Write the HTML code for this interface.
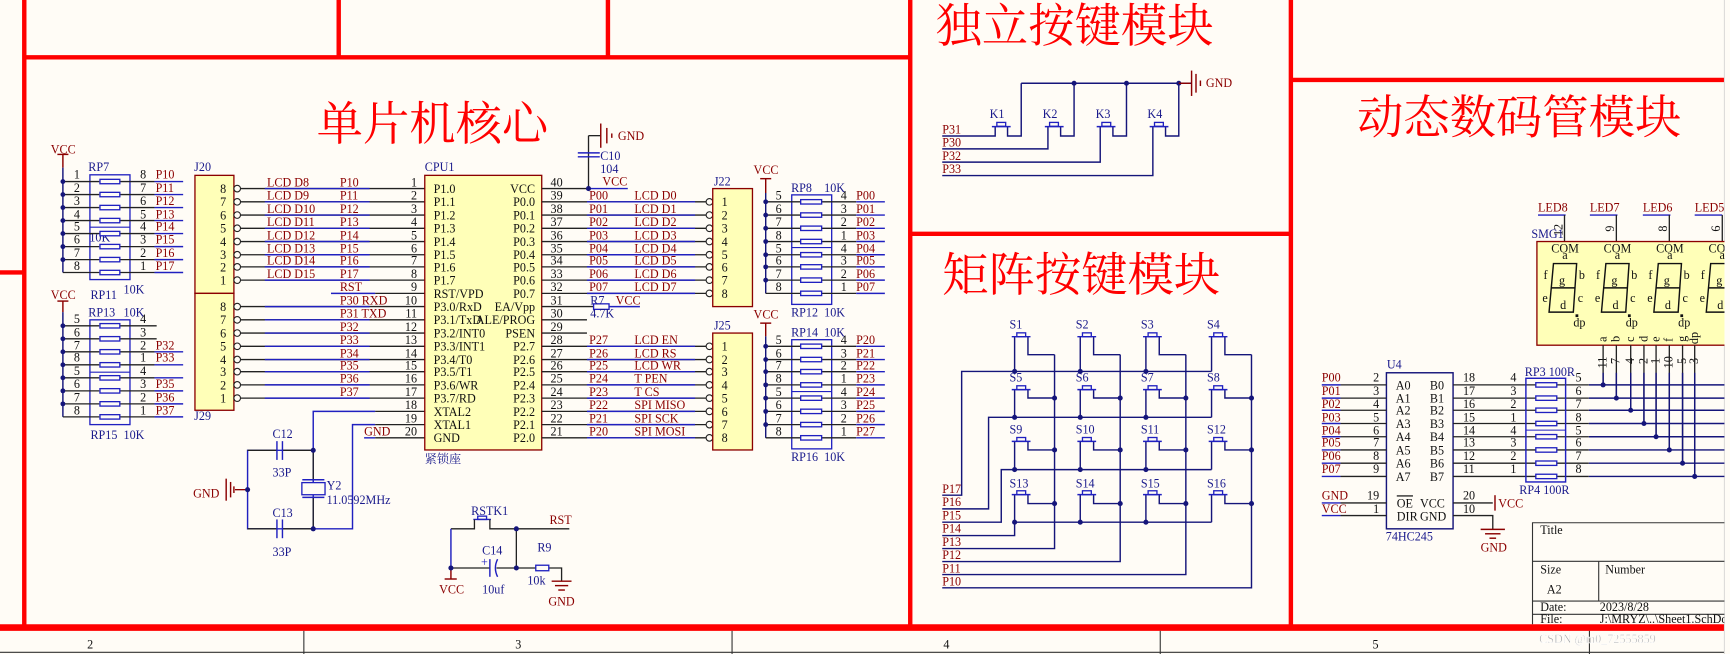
<!DOCTYPE html>
<html><head><meta charset="utf-8"><style>
html,body{margin:0;padding:0;background:#fffcf6;}
svg{display:block;}
text{font-family:"Liberation Serif","Noto Serif CJK SC",serif;font-size:11px;}
.t{font-family:"Liberation Serif","Noto Serif CJK SC",serif;font-size:42px;fill:#ff0000;}
.n{fill:#111;}
.l{fill:#8b0000;}
.c{fill:#1a1a8c;}
.bk{stroke:#222;stroke-width:1.2;fill:none;}
.bl{stroke:#2020c0;stroke-width:1.3;fill:none;}
.nv{stroke:#15157a;stroke-width:1.3;fill:none;}
.dr{stroke:#8b0000;stroke-width:1.3;fill:none;}
.rd{stroke:#ff0000;stroke-width:4;fill:none;}
.rs{fill:#fffcf6;stroke:#2020c0;stroke-width:1.2;}
.yb{fill:#ffffb8;stroke:#8b0000;stroke-width:1.2;}
.cr{fill:#fffcf6;stroke:#222;stroke-width:1;}
.d{fill:#15157a;}
</style></head><body>
<svg width="1730" height="654" viewBox="0 0 1568 593" preserveAspectRatio="none" xmlns="http://www.w3.org/2000/svg">
<rect width="1568" height="593" fill="#fffcf6"/>

<!-- red frame -->
<g class="rd">
<line x1="22" y1="0" x2="22" y2="570"/>
<line x1="0" y1="247" x2="22" y2="247"/>
<line x1="22" y1="52" x2="825" y2="52"/>
<line x1="307" y1="0" x2="307" y2="52"/>
<line x1="551" y1="0" x2="551" y2="52"/>
<line x1="825" y1="0" x2="825" y2="570"/>
<line x1="825" y1="212" x2="1170" y2="212"/>
<line x1="1170" y1="0" x2="1170" y2="570"/>
<line x1="1170" y1="72.5" x2="1568" y2="72.5"/>
<line x1="0" y1="569" x2="1568" y2="569" stroke-width="6"/>
</g>
<!-- bottom strip -->
<g stroke="#333" stroke-width="1"><line x1="275.4" y1="572" x2="275.4" y2="593"/><line x1="663.5" y1="572" x2="663.5" y2="593"/><line x1="1051.6" y1="572" x2="1051.6" y2="593"/><line x1="1440.6" y1="572" x2="1440.6" y2="593"/><line x1="0" y1="591.5" x2="1568" y2="591.5"/><line x1="1563" y1="0" x2="1563" y2="593" stroke="#bbb"/></g>
<text x="79" y="588" class="n">2</text><text x="467" y="588" class="n">3</text><text x="855" y="588" class="n">4</text><text x="1244" y="588" class="n">5</text>

<!-- titles -->
<text x="287" y="127" class="t">单片机核心</text>
<text x="848" y="38" class="t">独立按键模块</text>
<text x="854" y="264" class="t">矩阵按键模块</text>
<text x="1230" y="121" class="t">动态数码管模块</text>

<!-- ============ RP7 / RP11 ============ -->
<text x="46" y="139" class="l">VCC</text>
<line x1="57" y1="140" x2="57" y2="152" class="dr"/><line x1="52" y1="140" x2="62" y2="140" class="dr"/>
<line x1="57" y1="152" x2="57" y2="247" class="nv"/>
<rect x="81.5" y="158.5" width="36.3" height="95" fill="none" stroke="#2020c0" stroke-width="1.2"/>
<line x1="81.5" y1="206" x2="117.8" y2="206" stroke="#2020c0"/>
<text x="80" y="155" class="c">RP7</text><text x="81" y="219" class="c">10K</text><text x="112" y="266" class="c">10K</text><text x="82" y="271" class="c">RP11</text>
<g class="bk">
<line x1="57" y1="164.6" x2="90" y2="164.6"/><line x1="57" y1="176.4" x2="90" y2="176.4"/><line x1="57" y1="188.2" x2="90" y2="188.2"/><line x1="57" y1="200" x2="90" y2="200"/><line x1="57" y1="211.8" x2="90" y2="211.8"/><line x1="57" y1="223.6" x2="90" y2="223.6"/><line x1="57" y1="235.4" x2="90" y2="235.4"/><line x1="57" y1="247.1" x2="90" y2="247.1"/>
<line x1="109" y1="164.6" x2="140" y2="164.6"/><line x1="109" y1="176.4" x2="140" y2="176.4"/><line x1="109" y1="188.2" x2="140" y2="188.2"/><line x1="109" y1="200" x2="140" y2="200"/><line x1="109" y1="211.8" x2="140" y2="211.8"/><line x1="109" y1="223.6" x2="140" y2="223.6"/><line x1="109" y1="235.4" x2="140" y2="235.4"/><line x1="109" y1="247.1" x2="140" y2="247.1"/>
</g>
<g class="bl"><line x1="140" y1="164.6" x2="166" y2="164.6"/><line x1="140" y1="176.4" x2="166" y2="176.4"/><line x1="140" y1="188.2" x2="166" y2="188.2"/><line x1="140" y1="200" x2="166" y2="200"/><line x1="140" y1="211.8" x2="166" y2="211.8"/><line x1="140" y1="223.6" x2="166" y2="223.6"/><line x1="140" y1="235.4" x2="166" y2="235.4"/><line x1="140" y1="247.1" x2="166" y2="247.1"/></g>
<g class="rs"><rect x="90.6" y="162.6" width="18" height="4"/><rect x="90.6" y="174.4" width="18" height="4"/><rect x="90.6" y="186.2" width="18" height="4"/><rect x="90.6" y="198" width="18" height="4"/><rect x="90.6" y="209.8" width="18" height="4"/><rect x="90.6" y="221.6" width="18" height="4"/><rect x="90.6" y="233.4" width="18" height="4"/><rect x="90.6" y="245.1" width="18" height="4"/></g>
<g class="d"><circle cx="57" cy="164.6" r="2.2"/><circle cx="57" cy="176.4" r="2.2"/><circle cx="57" cy="188.2" r="2.2"/><circle cx="57" cy="200" r="2.2"/><circle cx="57" cy="211.8" r="2.2"/><circle cx="57" cy="223.6" r="2.2"/><circle cx="57" cy="235.4" r="2.2"/></g>
<g class="n"><text x="67" y="162">1</text><text x="67" y="174">2</text><text x="67" y="186">3</text><text x="67" y="198">4</text><text x="67" y="209">5</text><text x="67" y="221">6</text><text x="67" y="233">7</text><text x="67" y="245">8</text>
<text x="127" y="162">8</text><text x="127" y="174">7</text><text x="127" y="186">6</text><text x="127" y="198">5</text><text x="127" y="209">4</text><text x="127" y="221">3</text><text x="127" y="233">2</text><text x="127" y="245">1</text></g>
<g class="l"><text x="141" y="162">P10</text><text x="141" y="174">P11</text><text x="141" y="186">P12</text><text x="141" y="198">P13</text><text x="141" y="209">P14</text><text x="141" y="221">P15</text><text x="141" y="233">P16</text><text x="141" y="245">P17</text></g>

<!-- ============ RP13 / RP15 ============ -->
<text x="46" y="271" class="l">VCC</text>
<line x1="57" y1="273" x2="57" y2="283" class="dr"/><line x1="52" y1="273" x2="62" y2="273" class="dr"/>
<line x1="57" y1="283" x2="57" y2="378" class="nv"/>
<rect x="81.5" y="290" width="36.3" height="95" fill="none" stroke="#2020c0" stroke-width="1.2"/>
<line x1="81.5" y1="337.5" x2="117.8" y2="337.5" stroke="#2020c0"/>
<text x="80" y="287" class="c">RP13</text><text x="112" y="287" class="c">10K</text><text x="82" y="398" class="c">RP15</text><text x="112" y="398" class="c">10K</text>
<g class="bk">
<line x1="57" y1="295.4" x2="90" y2="295.4"/><line x1="57" y1="307.2" x2="90" y2="307.2"/><line x1="57" y1="319" x2="90" y2="319"/><line x1="57" y1="330.8" x2="90" y2="330.8"/><line x1="57" y1="342.6" x2="90" y2="342.6"/><line x1="57" y1="354.4" x2="90" y2="354.4"/><line x1="57" y1="366.2" x2="90" y2="366.2"/><line x1="57" y1="378" x2="90" y2="378"/>
<line x1="109" y1="295.4" x2="142" y2="295.4"/><line x1="109" y1="307.2" x2="142" y2="307.2"/><line x1="109" y1="319" x2="140" y2="319"/><line x1="109" y1="330.8" x2="140" y2="330.8"/><line x1="109" y1="342.6" x2="140" y2="342.6"/><line x1="109" y1="354.4" x2="140" y2="354.4"/><line x1="109" y1="366.2" x2="140" y2="366.2"/><line x1="109" y1="378" x2="140" y2="378"/>
</g>
<g class="bl"><line x1="140" y1="319" x2="166" y2="319"/><line x1="140" y1="330.8" x2="166" y2="330.8"/><line x1="140" y1="342.6" x2="166" y2="342.6"/><line x1="140" y1="354.4" x2="166" y2="354.4"/><line x1="140" y1="366.2" x2="166" y2="366.2"/><line x1="140" y1="378" x2="166" y2="378"/></g>
<g class="rs"><rect x="90.6" y="293.4" width="18" height="4"/><rect x="90.6" y="305.2" width="18" height="4"/><rect x="90.6" y="317" width="18" height="4"/><rect x="90.6" y="328.8" width="18" height="4"/><rect x="90.6" y="340.6" width="18" height="4"/><rect x="90.6" y="352.4" width="18" height="4"/><rect x="90.6" y="364.2" width="18" height="4"/><rect x="90.6" y="376" width="18" height="4"/></g>
<g class="d"><circle cx="57" cy="295.4" r="2.2"/><circle cx="57" cy="307.2" r="2.2"/><circle cx="57" cy="319" r="2.2"/><circle cx="57" cy="330.8" r="2.2"/><circle cx="57" cy="342.6" r="2.2"/><circle cx="57" cy="354.4" r="2.2"/><circle cx="57" cy="366.2" r="2.2"/></g>
<g class="n"><text x="67" y="293">5</text><text x="67" y="305">6</text><text x="67" y="317">7</text><text x="67" y="328">8</text><text x="67" y="340">5</text><text x="67" y="352">6</text><text x="67" y="364">7</text><text x="67" y="376">8</text>
<text x="127" y="293">4</text><text x="127" y="305">3</text><text x="127" y="317">2</text><text x="127" y="328">1</text><text x="127" y="340">4</text><text x="127" y="352">3</text><text x="127" y="364">2</text><text x="127" y="376">1</text></g>
<g class="l"><text x="141" y="317">P32</text><text x="141" y="328">P33</text><text x="141" y="352">P35</text><text x="141" y="364">P36</text><text x="141" y="376">P37</text></g>

<!-- ============ J20 / J29 ============ -->
<text x="176" y="155" class="c">J20</text><text x="176" y="381" class="c">J29</text>
<rect x="176.7" y="159" width="35.3" height="107" class="yb"/>
<rect x="176.7" y="266" width="35.3" height="106" class="yb"/>
<g class="n" text-anchor="end"><text x="205" y="175">8</text><text x="205" y="187">7</text><text x="205" y="199">6</text><text x="205" y="211">5</text><text x="205" y="223">4</text><text x="205" y="235">3</text><text x="205" y="246">2</text><text x="205" y="258">1</text>
<text x="205" y="282">8</text><text x="205" y="294">7</text><text x="205" y="306">6</text><text x="205" y="318">5</text><text x="205" y="330">4</text><text x="205" y="341">3</text><text x="205" y="353">2</text><text x="205" y="365">1</text></g>

<!-- left CPU lines -->
<g class="bk">
<line x1="218" y1="171" x2="385" y2="171"/><line x1="218" y1="183" x2="385" y2="183"/><line x1="218" y1="195" x2="385" y2="195"/><line x1="218" y1="207" x2="385" y2="207"/><line x1="218" y1="219" x2="385" y2="219"/><line x1="218" y1="231" x2="385" y2="231"/><line x1="218" y1="242" x2="385" y2="242"/><line x1="218" y1="254" x2="385" y2="254"/>
<line x1="340" y1="266" x2="385" y2="266"/>
<line x1="218" y1="278" x2="385" y2="278"/><line x1="218" y1="290" x2="385" y2="290"/><line x1="218" y1="302" x2="385" y2="302"/><line x1="218" y1="314" x2="385" y2="314"/><line x1="218" y1="326" x2="385" y2="326"/><line x1="218" y1="337" x2="385" y2="337"/><line x1="218" y1="349" x2="385" y2="349"/><line x1="218" y1="361" x2="385" y2="361"/>
<line x1="340" y1="373" x2="385" y2="373"/><line x1="340" y1="385" x2="385" y2="385"/><line x1="340" y1="397" x2="385" y2="397"/>
</g>
<g class="bl">
<line x1="240" y1="171" x2="335" y2="171"/><line x1="240" y1="183" x2="335" y2="183"/><line x1="240" y1="195" x2="335" y2="195"/><line x1="240" y1="207" x2="335" y2="207"/><line x1="240" y1="219" x2="335" y2="219"/><line x1="240" y1="231" x2="335" y2="231"/><line x1="240" y1="242" x2="335" y2="242"/><line x1="240" y1="254" x2="335" y2="254"/>
<line x1="300" y1="266" x2="340" y2="266"/>
<line x1="240" y1="278" x2="335" y2="278"/><line x1="240" y1="290" x2="335" y2="290"/><line x1="240" y1="302" x2="335" y2="302"/><line x1="240" y1="314" x2="335" y2="314"/><line x1="240" y1="326" x2="335" y2="326"/><line x1="240" y1="337" x2="335" y2="337"/><line x1="240" y1="349" x2="335" y2="349"/><line x1="240" y1="361" x2="335" y2="361"/>
<polyline points="340,373 283.9,373 283.9,479.5"/><polyline points="340,385 319.5,385 319.5,479.5 224.4,479.5 224.4,408.3 283.9,408.3"/>
<line x1="330" y1="397" x2="340" y2="397"/>
</g>
<g class="cr"><circle cx="215" cy="171" r="3"/><circle cx="215" cy="183" r="3"/><circle cx="215" cy="195" r="3"/><circle cx="215" cy="207" r="3"/><circle cx="215" cy="219" r="3"/><circle cx="215" cy="231" r="3"/><circle cx="215" cy="242" r="3"/><circle cx="215" cy="254" r="3"/>
<circle cx="215" cy="278" r="3"/><circle cx="215" cy="290" r="3"/><circle cx="215" cy="302" r="3"/><circle cx="215" cy="314" r="3"/><circle cx="215" cy="326" r="3"/><circle cx="215" cy="337" r="3"/><circle cx="215" cy="349" r="3"/><circle cx="215" cy="361" r="3"/></g>
<g class="l">
<text x="242" y="169">LCD  D8</text><text x="242" y="181">LCD  D9</text><text x="242" y="193">LCD  D10</text><text x="242" y="205">LCD  D11</text><text x="242" y="217">LCD  D12</text><text x="242" y="229">LCD  D13</text><text x="242" y="240">LCD  D14</text><text x="242" y="252">LCD  D15</text>
<text x="308" y="169">P10</text><text x="308" y="181">P11</text><text x="308" y="193">P12</text><text x="308" y="205">P13</text><text x="308" y="217">P14</text><text x="308" y="229">P15</text><text x="308" y="240">P16</text><text x="308" y="252">P17</text>
<text x="308" y="264">RST</text><text x="308" y="276">P30  RXD</text><text x="308" y="288">P31  TXD</text><text x="308" y="300">P32</text><text x="308" y="312">P33</text><text x="308" y="324">P34</text><text x="308" y="335">P35</text><text x="308" y="347">P36</text><text x="308" y="359">P37</text><text x="330" y="395">GND</text>
</g>
<g class="n" text-anchor="end">
<text x="378" y="169">1</text><text x="378" y="181">2</text><text x="378" y="193">3</text><text x="378" y="205">4</text><text x="378" y="217">5</text><text x="378" y="229">6</text><text x="378" y="240">7</text><text x="378" y="252">8</text><text x="378" y="264">9</text><text x="378" y="276">10</text><text x="378" y="288">11</text><text x="378" y="300">12</text><text x="378" y="312">13</text><text x="378" y="324">14</text><text x="378" y="335">15</text><text x="378" y="347">16</text><text x="378" y="359">17</text><text x="378" y="371">18</text><text x="378" y="383">19</text><text x="378" y="395">20</text>
</g>

<!-- CPU -->
<text x="385" y="155" class="c">CPU1</text>
<rect x="385" y="159" width="106" height="249" class="yb"/>
<text x="385" y="420" class="c" font-family="Noto Serif CJK SC, serif">紧锁座</text>
<g class="n">
<text x="393" y="175">P1.0</text><text x="393" y="187">P1.1</text><text x="393" y="199">P1.2</text><text x="393" y="211">P1.3</text><text x="393" y="223">P1.4</text><text x="393" y="235">P1.5</text><text x="393" y="246">P1.6</text><text x="393" y="258">P1.7</text><text x="393" y="270">RST/VPD</text><text x="393" y="282">P3.0/RxD</text><text x="393" y="294">P3.1/TxD</text><text x="393" y="306">P3.2/INT0</text><text x="393" y="318">P3.3/INT1</text><text x="393" y="330">P3.4/T0</text><text x="393" y="341">P3.5/T1</text><text x="393" y="353">P3.6/WR</text><text x="393" y="365">P3.7/RD</text><text x="393" y="377">XTAL2</text><text x="393" y="389">XTAL1</text><text x="393" y="401">GND</text>
</g>
<g class="n" text-anchor="end">
<text x="485" y="175">VCC</text><text x="485" y="187">P0.0</text><text x="485" y="199">P0.1</text><text x="485" y="211">P0.2</text><text x="485" y="223">P0.3</text><text x="485" y="235">P0.4</text><text x="485" y="246">P0.5</text><text x="485" y="258">P0.6</text><text x="485" y="270">P0.7</text><text x="485" y="282">EA/Vpp</text><text x="485" y="294">ALE/PROG</text><text x="485" y="306">PSEN</text><text x="485" y="318">P2.7</text><text x="485" y="330">P2.6</text><text x="485" y="341">P2.5</text><text x="485" y="353">P2.4</text><text x="485" y="365">P2.3</text><text x="485" y="377">P2.2</text><text x="485" y="389">P2.1</text><text x="485" y="401">P2.0</text>
</g>
<!-- right CPU lines -->
<g class="bk">
<line x1="491" y1="171" x2="533" y2="171"/><line x1="491" y1="183" x2="640" y2="183"/><line x1="491" y1="195" x2="640" y2="195"/><line x1="491" y1="207" x2="640" y2="207"/><line x1="491" y1="219" x2="640" y2="219"/><line x1="491" y1="231" x2="640" y2="231"/><line x1="491" y1="242" x2="640" y2="242"/><line x1="491" y1="254" x2="640" y2="254"/><line x1="491" y1="266" x2="640" y2="266"/>
<line x1="491" y1="278" x2="540" y2="278"/><line x1="491" y1="290" x2="532" y2="290"/><line x1="491" y1="302" x2="532" y2="302"/>
<line x1="491" y1="314" x2="640" y2="314"/><line x1="491" y1="326" x2="640" y2="326"/><line x1="491" y1="337" x2="640" y2="337"/><line x1="491" y1="349" x2="640" y2="349"/><line x1="491" y1="361" x2="640" y2="361"/><line x1="491" y1="373" x2="640" y2="373"/><line x1="491" y1="385" x2="640" y2="385"/><line x1="491" y1="397" x2="640" y2="397"/>
<line x1="533.4" y1="123" x2="533.4" y2="171"/><line x1="533.4" y1="123" x2="544" y2="123"/>
</g>
<g class="bl">
<line x1="533" y1="171" x2="569" y2="171"/>
<line x1="532" y1="183" x2="630" y2="183"/><line x1="532" y1="195" x2="630" y2="195"/><line x1="532" y1="207" x2="630" y2="207"/><line x1="532" y1="219" x2="630" y2="219"/><line x1="532" y1="231" x2="630" y2="231"/><line x1="532" y1="242" x2="630" y2="242"/><line x1="532" y1="254" x2="630" y2="254"/><line x1="532" y1="266" x2="630" y2="266"/>
<line x1="532" y1="314" x2="630" y2="314"/><line x1="532" y1="326" x2="630" y2="326"/><line x1="532" y1="337" x2="630" y2="337"/><line x1="532" y1="349" x2="630" y2="349"/><line x1="532" y1="361" x2="630" y2="361"/><line x1="532" y1="373" x2="630" y2="373"/><line x1="532" y1="385" x2="630" y2="385"/><line x1="532" y1="397" x2="630" y2="397"/>
<line x1="552" y1="278" x2="580" y2="278"/>
<line x1="523.7" y1="138.6" x2="543.6" y2="138.6"/><line x1="523.7" y1="142.2" x2="543.6" y2="142.2"/>
</g>
<rect x="538" y="275.5" width="14" height="5" class="rs"/>
<circle cx="533.4" cy="171" r="2.3" class="d"/>
<g class="dr"><line x1="544.5" y1="112" x2="544.5" y2="134"/><line x1="550" y1="116" x2="550" y2="130"/><line x1="554.5" y1="121" x2="554.5" y2="125"/></g>
<text x="560" y="127" class="l">GND</text><text x="544" y="145" class="c">C10</text><text x="544" y="157" class="c">104</text>
<text x="546" y="168" class="l">VCC</text>
<text x="535" y="276" class="c">R7</text><text x="558" y="276" class="l">VCC</text><text x="535" y="288" class="c">4.7K</text>
<g class="cr"><circle cx="643" cy="183" r="3"/><circle cx="643" cy="195" r="3"/><circle cx="643" cy="207" r="3"/><circle cx="643" cy="219" r="3"/><circle cx="643" cy="231" r="3"/><circle cx="643" cy="242" r="3"/><circle cx="643" cy="254" r="3"/><circle cx="643" cy="266" r="3"/>
<circle cx="643" cy="314" r="3"/><circle cx="643" cy="326" r="3"/><circle cx="643" cy="337" r="3"/><circle cx="643" cy="349" r="3"/><circle cx="643" cy="361" r="3"/><circle cx="643" cy="373" r="3"/><circle cx="643" cy="385" r="3"/><circle cx="643" cy="397" r="3"/></g>
<g class="n">
<text x="499" y="169">40</text><text x="499" y="181">39</text><text x="499" y="193">38</text><text x="499" y="205">37</text><text x="499" y="217">36</text><text x="499" y="229">35</text><text x="499" y="240">34</text><text x="499" y="252">33</text><text x="499" y="264">32</text><text x="499" y="276">31</text><text x="499" y="288">30</text><text x="499" y="300">29</text><text x="499" y="312">28</text><text x="499" y="324">27</text><text x="499" y="335">26</text><text x="499" y="347">25</text><text x="499" y="359">24</text><text x="499" y="371">23</text><text x="499" y="383">22</text><text x="499" y="395">21</text>
</g>
<g class="l">
<text x="534" y="181">P00</text><text x="534" y="193">P01</text><text x="534" y="205">P02</text><text x="534" y="217">P03</text><text x="534" y="229">P04</text><text x="534" y="240">P05</text><text x="534" y="252">P06</text><text x="534" y="264">P07</text>
<text x="575" y="181">LCD  D0</text><text x="575" y="193">LCD  D1</text><text x="575" y="205">LCD  D2</text><text x="575" y="217">LCD  D3</text><text x="575" y="229">LCD  D4</text><text x="575" y="240">LCD  D5</text><text x="575" y="252">LCD  D6</text><text x="575" y="264">LCD  D7</text>
<text x="534" y="312">P27</text><text x="534" y="324">P26</text><text x="534" y="335">P25</text><text x="534" y="347">P24</text><text x="534" y="359">P23</text><text x="534" y="371">P22</text><text x="534" y="383">P21</text><text x="534" y="395">P20</text>
<text x="575" y="312">LCD  EN</text><text x="575" y="324">LCD  RS</text><text x="575" y="335">LCD  WR</text><text x="575" y="347">T  PEN</text><text x="575" y="359">T  CS</text><text x="575" y="371">SPI  MISO</text><text x="575" y="383">SPI  SCK</text><text x="575" y="395">SPI  MOSI</text>
</g>

<!-- J22 / J25 -->
<text x="647" y="168" class="c">J22</text><text x="647" y="299" class="c">J25</text>
<rect x="646" y="171" width="36" height="107" class="yb"/>
<rect x="646" y="302" width="36" height="106" class="yb"/>
<g class="n">
<text x="654" y="187">1</text><text x="654" y="199">2</text><text x="654" y="211">3</text><text x="654" y="223">4</text><text x="654" y="235">5</text><text x="654" y="246">6</text><text x="654" y="258">7</text><text x="654" y="270">8</text>
<text x="654" y="318">1</text><text x="654" y="330">2</text><text x="654" y="341">3</text><text x="654" y="353">4</text><text x="654" y="365">5</text><text x="654" y="377">6</text><text x="654" y="389">7</text><text x="654" y="401">8</text>
</g>

<!-- RP8/RP12 -->
<text x="683" y="158" class="l">VCC</text>
<line x1="689" y1="162" x2="699" y2="162" class="dr"/><line x1="694" y1="162" x2="694" y2="175" class="dr"/>
<line x1="694" y1="175" x2="694" y2="266" class="nv"/>
<rect x="717.6" y="176.7" width="36.2" height="99.3" fill="none" stroke="#2020c0" stroke-width="1.2"/><line x1="717.6" y1="224.5" x2="753.8" y2="224.5" stroke="#2020c0"/>
<text x="717" y="174" class="c">RP8</text><text x="747" y="174" class="c">10K</text><text x="717" y="287" class="c">RP12</text><text x="747" y="287" class="c">10K</text>
<g class="bk"><line x1="694" y1="183" x2="726" y2="183"/><line x1="694" y1="195" x2="726" y2="195"/><line x1="694" y1="207" x2="726" y2="207"/><line x1="694" y1="219" x2="726" y2="219"/><line x1="694" y1="231" x2="726" y2="231"/><line x1="694" y1="242" x2="726" y2="242"/><line x1="694" y1="254" x2="726" y2="254"/><line x1="694" y1="266" x2="726" y2="266"/>
<line x1="744" y1="183" x2="776" y2="183"/><line x1="744" y1="195" x2="776" y2="195"/><line x1="744" y1="207" x2="776" y2="207"/><line x1="744" y1="219" x2="776" y2="219"/><line x1="744" y1="231" x2="776" y2="231"/><line x1="744" y1="242" x2="776" y2="242"/><line x1="744" y1="254" x2="776" y2="254"/><line x1="744" y1="266" x2="776" y2="266"/></g>
<g class="bl"><line x1="776" y1="183" x2="802" y2="183"/><line x1="776" y1="195" x2="802" y2="195"/><line x1="776" y1="207" x2="802" y2="207"/><line x1="776" y1="219" x2="802" y2="219"/><line x1="776" y1="231" x2="802" y2="231"/><line x1="776" y1="242" x2="802" y2="242"/><line x1="776" y1="254" x2="802" y2="254"/><line x1="776" y1="266" x2="802" y2="266"/></g>
<g class="rs"><rect x="725.7" y="181" width="19" height="4"/><rect x="725.7" y="193" width="19" height="4"/><rect x="725.7" y="205" width="19" height="4"/><rect x="725.7" y="217" width="19" height="4"/><rect x="725.7" y="229" width="19" height="4"/><rect x="725.7" y="240" width="19" height="4"/><rect x="725.7" y="252" width="19" height="4"/><rect x="725.7" y="264" width="19" height="4"/></g>
<g class="d"><circle cx="694" cy="183" r="2.2"/><circle cx="694" cy="195" r="2.2"/><circle cx="694" cy="207" r="2.2"/><circle cx="694" cy="219" r="2.2"/><circle cx="694" cy="231" r="2.2"/><circle cx="694" cy="242" r="2.2"/><circle cx="694" cy="254" r="2.2"/></g>
<g class="n"><text x="703" y="181">5</text><text x="703" y="193">6</text><text x="703" y="205">7</text><text x="703" y="217">8</text><text x="703" y="229">5</text><text x="703" y="240">6</text><text x="703" y="252">7</text><text x="703" y="264">8</text>
<text x="762" y="181">4</text><text x="762" y="193">3</text><text x="762" y="205">2</text><text x="762" y="217">1</text><text x="762" y="229">4</text><text x="762" y="240">3</text><text x="762" y="252">2</text><text x="762" y="264">1</text></g>
<g class="l"><text x="776" y="181">P00</text><text x="776" y="193">P01</text><text x="776" y="205">P02</text><text x="776" y="217">P03</text><text x="776" y="229">P04</text><text x="776" y="240">P05</text><text x="776" y="252">P06</text><text x="776" y="264">P07</text></g>

<!-- RP14/RP16 -->
<text x="683" y="289" class="l">VCC</text>
<line x1="689" y1="293" x2="699" y2="293" class="dr"/><line x1="694" y1="293" x2="694" y2="305" class="dr"/>
<line x1="694" y1="305" x2="694" y2="397" class="nv"/>
<rect x="717.6" y="308" width="36.2" height="99" fill="none" stroke="#2020c0" stroke-width="1.2"/><line x1="717.6" y1="355" x2="753.8" y2="355" stroke="#2020c0"/>
<text x="717" y="305" class="c">RP14</text><text x="747" y="305" class="c">10K</text><text x="717" y="418" class="c">RP16</text><text x="747" y="418" class="c">10K</text>
<g class="bk"><line x1="694" y1="314" x2="726" y2="314"/><line x1="694" y1="326" x2="726" y2="326"/><line x1="694" y1="337" x2="726" y2="337"/><line x1="694" y1="349" x2="726" y2="349"/><line x1="694" y1="361" x2="726" y2="361"/><line x1="694" y1="373" x2="726" y2="373"/><line x1="694" y1="385" x2="726" y2="385"/><line x1="694" y1="397" x2="726" y2="397"/>
<line x1="744" y1="314" x2="776" y2="314"/><line x1="744" y1="326" x2="776" y2="326"/><line x1="744" y1="337" x2="776" y2="337"/><line x1="744" y1="349" x2="776" y2="349"/><line x1="744" y1="361" x2="776" y2="361"/><line x1="744" y1="373" x2="776" y2="373"/><line x1="744" y1="385" x2="776" y2="385"/><line x1="744" y1="397" x2="776" y2="397"/></g>
<g class="bl"><line x1="776" y1="314" x2="802" y2="314"/><line x1="776" y1="326" x2="802" y2="326"/><line x1="776" y1="337" x2="802" y2="337"/><line x1="776" y1="349" x2="802" y2="349"/><line x1="776" y1="361" x2="802" y2="361"/><line x1="776" y1="373" x2="802" y2="373"/><line x1="776" y1="385" x2="802" y2="385"/><line x1="776" y1="397" x2="802" y2="397"/></g>
<g class="rs"><rect x="725.7" y="312" width="19" height="4"/><rect x="725.7" y="324" width="19" height="4"/><rect x="725.7" y="335" width="19" height="4"/><rect x="725.7" y="347" width="19" height="4"/><rect x="725.7" y="359" width="19" height="4"/><rect x="725.7" y="371" width="19" height="4"/><rect x="725.7" y="383" width="19" height="4"/><rect x="725.7" y="395" width="19" height="4"/></g>
<g class="d"><circle cx="694" cy="314" r="2.2"/><circle cx="694" cy="326" r="2.2"/><circle cx="694" cy="337" r="2.2"/><circle cx="694" cy="349" r="2.2"/><circle cx="694" cy="361" r="2.2"/><circle cx="694" cy="373" r="2.2"/><circle cx="694" cy="385" r="2.2"/></g>
<g class="n"><text x="703" y="312">5</text><text x="703" y="324">6</text><text x="703" y="335">7</text><text x="703" y="347">8</text><text x="703" y="359">5</text><text x="703" y="371">6</text><text x="703" y="383">7</text><text x="703" y="395">8</text>
<text x="762" y="312">4</text><text x="762" y="324">3</text><text x="762" y="335">2</text><text x="762" y="347">1</text><text x="762" y="359">4</text><text x="762" y="371">3</text><text x="762" y="383">2</text><text x="762" y="395">1</text></g>
<g class="l"><text x="776" y="312">P20</text><text x="776" y="324">P21</text><text x="776" y="335">P22</text><text x="776" y="347">P23</text><text x="776" y="359">P24</text><text x="776" y="371">P25</text><text x="776" y="383">P26</text><text x="776" y="395">P27</text></g>

<!-- crystal -->
<g class="bk"><line x1="224.4" y1="408.3" x2="251" y2="408.3"/><line x1="256" y1="408.3" x2="283.9" y2="408.3"/><line x1="224.4" y1="479.5" x2="251" y2="479.5"/><line x1="256" y1="479.5" x2="283.9" y2="479.5"/><line x1="283.9" y1="408.3" x2="283.9" y2="435"/><line x1="283.9" y1="451" x2="283.9" y2="479.5"/><line x1="213" y1="444" x2="224.4" y2="444" stroke="#8b0000"/></g>
<g class="bl"><line x1="251" y1="400" x2="251" y2="417"/><line x1="256" y1="400" x2="256" y2="417"/><line x1="251" y1="471" x2="251" y2="488"/><line x1="256" y1="471" x2="256" y2="488"/>
<line x1="274" y1="435" x2="294" y2="435"/><line x1="274" y1="451" x2="294" y2="451"/></g>
<rect x="273.6" y="437.6" width="21" height="11" class="rs"/>
<g class="dr"><line x1="205" y1="434" x2="205" y2="454"/><line x1="209" y1="437" x2="209" y2="451"/><line x1="212" y1="441" x2="212" y2="447"/></g>
<g class="d"><circle cx="283.9" cy="408.3" r="2.3"/><circle cx="283.9" cy="479.5" r="2.3"/><circle cx="224.4" cy="444" r="2.3"/></g>
<text x="247" y="397" class="c">C12</text><text x="247" y="432" class="c">33P</text><text x="247" y="469" class="c">C13</text><text x="247" y="504" class="c">33P</text>
<text x="296" y="444" class="c">Y2</text><text x="296" y="457" class="c">11.0592MHz</text><text x="175" y="451" class="l">GND</text>

<!-- reset -->
<text x="427" y="467" class="c">RSTK1</text>
<rect x="433" y="468" width="8" height="3" class="rs"/><line x1="429" y1="471" x2="445" y2="471" class="bl"/>
<g class="bk"><polyline points="430,471 430,479.5 408.7,479.5"/><polyline points="444,471 444,479.5 516,479.5"/><line x1="468" y1="479.5" x2="468" y2="515"/><line x1="408.7" y1="515" x2="444" y2="515"/><line x1="450" y1="515" x2="485.6" y2="515"/><polyline points="497.4,515 509,515 509,527"/></g>
<g class="bl"><line x1="408.7" y1="479.5" x2="408.7" y2="515"/><line x1="444" y1="507" x2="444" y2="523"/><path d="M451,507 Q447,515 451,523"/></g>
<line x1="408.7" y1="515" x2="408.7" y2="525" class="dr"/><line x1="403" y1="525" x2="414" y2="525" class="dr"/>
<g class="dr"><line x1="500" y1="527" x2="518" y2="527"/><line x1="503" y1="531" x2="515" y2="531"/><line x1="506" y1="535" x2="512" y2="535"/></g>
<rect x="485.6" y="512.5" width="11.8" height="5" class="rs"/>
<g class="d"><circle cx="408.7" cy="515" r="2.3"/><circle cx="468" cy="515" r="2.3"/><circle cx="468" cy="479.5" r="2.3"/></g>
<text x="498" y="475" class="l">RST</text><text x="437" y="503" class="c">C14</text><text x="436" y="513" fill="#2020c0" font-size="10">+</text><text x="487" y="500" class="c">R9</text><text x="478" y="530" class="c">10k</text>
<text x="398" y="538" class="l">VCC</text><text x="437" y="538" class="c">10uf</text><text x="497" y="549" class="l">GND</text>

<!-- ============ independent keys ============ -->
<g class="nv">
<line x1="925.6" y1="75.5" x2="1080" y2="75.5"/>
<polyline points="913.2,115 913.2,123.3 925.6,123.3 925.6,75.5"/>
<polyline points="961.3,115 961.3,123.3 973.5,123.3 973.5,75.5"/>
<polyline points="1008.7,115 1008.7,123.3 1021,123.3 1021,75.5"/>
<polyline points="1056.4,115 1056.4,123.3 1068.4,123.3 1068.4,75.5"/>
<polyline points="902,115 902,123.3 854,123.3"/>
<polyline points="949.8,115 949.8,135 854,135"/>
<polyline points="997.2,115 997.2,147 854,147"/>
<polyline points="1044.9,115 1044.9,159.2 854,159.2"/>
</g>
<g fill="#fffcf6" stroke="#2020c0" stroke-width="1.2">
<rect x="903.5" y="111" width="8" height="3.5"/><rect x="951.3" y="111" width="8" height="3.5"/><rect x="998.7" y="111" width="8" height="3.5"/><rect x="1046.4" y="111" width="8" height="3.5"/>
</g>
<g class="bl"><line x1="899" y1="114.8" x2="916" y2="114.8"/><line x1="947" y1="114.8" x2="964" y2="114.8"/><line x1="994" y1="114.8" x2="1011" y2="114.8"/><line x1="1042" y1="114.8" x2="1059" y2="114.8"/></g>
<g class="d"><circle cx="973.5" cy="75.5" r="2.3"/><circle cx="1021" cy="75.5" r="2.3"/><circle cx="1068.4" cy="75.5" r="2.3"/></g>
<g class="dr"><line x1="1068.4" y1="75.5" x2="1079" y2="75.5"/><line x1="1080" y1="64" x2="1080" y2="87"/><line x1="1084" y1="67" x2="1084" y2="84"/><line x1="1088" y1="73" x2="1088" y2="78"/></g>
<text x="1093" y="79" class="l">GND</text>
<g class="c"><text x="897" y="107">K1</text><text x="945" y="107">K2</text><text x="993" y="107">K3</text><text x="1040" y="107">K4</text></g>
<g class="l"><text x="854" y="121">P31</text><text x="854" y="133">P30</text><text x="854" y="145">P32</text><text x="854" y="157">P33</text></g>

<!-- ============ matrix keys ============ -->
<g class="nv">
<!-- row buses -->
<polyline points="1098.1,336.8 871.6,336.8 871.6,449 854,449"/>
<polyline points="1098.1,378.4 896,378.4 896,461.4 854,461.4"/>
<polyline points="1098.1,425.8 907.5,425.8 907.5,473.5 854,473.5"/>
<polyline points="1098.1,473.5 919.6,473.5 919.6,485.6 854,485.6"/>
<!-- column buses -->
<polyline points="955.8,321.6 955.8,497.4 854,497.4"/>
<polyline points="1015.3,321.6 1015.3,509.2 854,509.2"/>
<polyline points="1074.8,321.6 1074.8,521 854,521"/>
<polyline points="1134.3,321.6 1134.3,533 854,533"/>
<!-- keys row 0 -->
<line x1="919.6" y1="305.3" x2="919.6" y2="336.8"/><polyline points="931.7,305.3 931.7,321.6 955.8,321.6"/>
<line x1="979.1" y1="305.3" x2="979.1" y2="336.8"/><polyline points="991.2,305.3 991.2,321.6 1015.3,321.6"/>
<line x1="1038.6" y1="305.3" x2="1038.6" y2="336.8"/><polyline points="1050.7,305.3 1050.7,321.6 1074.8,321.6"/>
<line x1="1098.1" y1="305.3" x2="1098.1" y2="336.8"/><polyline points="1110.2,305.3 1110.2,321.6 1134.3,321.6"/>
<!-- row 1 -->
<line x1="919.6" y1="353.3" x2="919.6" y2="378.4"/><polyline points="931.7,353.3 931.7,360.9 955.8,360.9"/>
<line x1="979.1" y1="353.3" x2="979.1" y2="378.4"/><polyline points="991.2,353.3 991.2,360.9 1015.3,360.9"/>
<line x1="1038.6" y1="353.3" x2="1038.6" y2="378.4"/><polyline points="1050.7,353.3 1050.7,360.9 1074.8,360.9"/>
<line x1="1098.1" y1="353.3" x2="1098.1" y2="378.4"/><polyline points="1110.2,353.3 1110.2,360.9 1134.3,360.9"/>
<!-- row 2 -->
<line x1="919.6" y1="400.2" x2="919.6" y2="425.8"/><polyline points="931.7,400.2 931.7,408 955.8,408"/>
<line x1="979.1" y1="400.2" x2="979.1" y2="425.8"/><polyline points="991.2,400.2 991.2,408 1015.3,408"/>
<line x1="1038.6" y1="400.2" x2="1038.6" y2="425.8"/><polyline points="1050.7,400.2 1050.7,408 1074.8,408"/>
<line x1="1098.1" y1="400.2" x2="1098.1" y2="425.8"/><polyline points="1110.2,400.2 1110.2,408 1134.3,408"/>
<!-- row 3 -->
<line x1="919.6" y1="448.5" x2="919.6" y2="473.5"/><polyline points="931.7,448.5 931.7,456.6 955.8,456.6"/>
<line x1="979.1" y1="448.5" x2="979.1" y2="473.5"/><polyline points="991.2,448.5 991.2,456.6 1015.3,456.6"/>
<line x1="1038.6" y1="448.5" x2="1038.6" y2="473.5"/><polyline points="1050.7,448.5 1050.7,456.6 1074.8,456.6"/>
<line x1="1098.1" y1="448.5" x2="1098.1" y2="473.5"/><polyline points="1110.2,448.5 1110.2,456.6 1134.3,456.6"/>
</g>
<g fill="#fffcf6" stroke="#2020c0" stroke-width="1.2">
<rect x="921.6" y="301.8" width="8" height="3.5"/><rect x="981.1" y="301.8" width="8" height="3.5"/><rect x="1040.6" y="301.8" width="8" height="3.5"/><rect x="1100.1" y="301.8" width="8" height="3.5"/>
<rect x="921.6" y="349.8" width="8" height="3.5"/><rect x="981.1" y="349.8" width="8" height="3.5"/><rect x="1040.6" y="349.8" width="8" height="3.5"/><rect x="1100.1" y="349.8" width="8" height="3.5"/>
<rect x="921.6" y="396.7" width="8" height="3.5"/><rect x="981.1" y="396.7" width="8" height="3.5"/><rect x="1040.6" y="396.7" width="8" height="3.5"/><rect x="1100.1" y="396.7" width="8" height="3.5"/>
<rect x="921.6" y="445" width="8" height="3.5"/><rect x="981.1" y="445" width="8" height="3.5"/><rect x="1040.6" y="445" width="8" height="3.5"/><rect x="1100.1" y="445" width="8" height="3.5"/>
</g>
<g class="bl">
<line x1="917" y1="305.3" x2="934" y2="305.3"/><line x1="976.5" y1="305.3" x2="993.5" y2="305.3"/><line x1="1036" y1="305.3" x2="1053" y2="305.3"/><line x1="1095.5" y1="305.3" x2="1112.5" y2="305.3"/>
<line x1="917" y1="353.3" x2="934" y2="353.3"/><line x1="976.5" y1="353.3" x2="993.5" y2="353.3"/><line x1="1036" y1="353.3" x2="1053" y2="353.3"/><line x1="1095.5" y1="353.3" x2="1112.5" y2="353.3"/>
<line x1="917" y1="400.2" x2="934" y2="400.2"/><line x1="976.5" y1="400.2" x2="993.5" y2="400.2"/><line x1="1036" y1="400.2" x2="1053" y2="400.2"/><line x1="1095.5" y1="400.2" x2="1112.5" y2="400.2"/>
<line x1="917" y1="448.5" x2="934" y2="448.5"/><line x1="976.5" y1="448.5" x2="993.5" y2="448.5"/><line x1="1036" y1="448.5" x2="1053" y2="448.5"/><line x1="1095.5" y1="448.5" x2="1112.5" y2="448.5"/>
</g>
<g class="d">
<circle cx="919.6" cy="336.8" r="2.3"/><circle cx="979.1" cy="336.8" r="2.3"/><circle cx="1038.6" cy="336.8" r="2.3"/>
<circle cx="919.6" cy="378.4" r="2.3"/><circle cx="979.1" cy="378.4" r="2.3"/><circle cx="1038.6" cy="378.4" r="2.3"/>
<circle cx="919.6" cy="425.8" r="2.3"/><circle cx="979.1" cy="425.8" r="2.3"/><circle cx="1038.6" cy="425.8" r="2.3"/>
<circle cx="919.6" cy="473.5" r="2.3"/><circle cx="979.1" cy="473.5" r="2.3"/><circle cx="1038.6" cy="473.5" r="2.3"/>
<circle cx="955.8" cy="360.9" r="2.3"/><circle cx="1015.3" cy="360.9" r="2.3"/><circle cx="1074.8" cy="360.9" r="2.3"/><circle cx="1134.3" cy="360.9" r="2.3"/>
<circle cx="955.8" cy="408" r="2.3"/><circle cx="1015.3" cy="408" r="2.3"/><circle cx="1074.8" cy="408" r="2.3"/><circle cx="1134.3" cy="408" r="2.3"/>
<circle cx="955.8" cy="456.6" r="2.3"/><circle cx="1015.3" cy="456.6" r="2.3"/><circle cx="1074.8" cy="456.6" r="2.3"/><circle cx="1134.3" cy="456.6" r="2.3"/>
</g>
<g class="c">
<text x="915" y="298">S1</text><text x="975" y="298">S2</text><text x="1034" y="298">S3</text><text x="1094" y="298">S4</text>
<text x="915" y="346">S5</text><text x="975" y="346">S6</text><text x="1034" y="346">S7</text><text x="1094" y="346">S8</text>
<text x="915" y="393">S9</text><text x="975" y="393">S10</text><text x="1034" y="393">S11</text><text x="1094" y="393">S12</text>
<text x="915" y="442">S13</text><text x="975" y="442">S14</text><text x="1034" y="442">S15</text><text x="1094" y="442">S16</text>
</g>
<g class="l"><text x="854" y="447">P17</text><text x="854" y="459">P16</text><text x="854" y="471">P15</text><text x="854" y="483">P14</text><text x="854" y="495">P13</text><text x="854" y="507">P12</text><text x="854" y="519">P11</text><text x="854" y="531">P10</text></g>

<!-- ============ 7-seg ============ -->
<g class="l"><text x="1394" y="192">LED8</text><text x="1441" y="192">LED7</text><text x="1489" y="192">LED6</text><text x="1536" y="192">LED5</text></g>
<g class="bl"><line x1="1394" y1="195" x2="1419" y2="195"/><line x1="1441" y1="195" x2="1466" y2="195"/><line x1="1489" y1="195" x2="1514" y2="195"/><line x1="1536" y1="195" x2="1561" y2="195"/></g>
<g class="bk"><line x1="1418" y1="195" x2="1418" y2="219"/><line x1="1465" y1="195" x2="1465" y2="219"/><line x1="1513" y1="195" x2="1513" y2="219"/><line x1="1561" y1="195" x2="1561" y2="219"/></g>
<g class="n" font-size="9"><text transform="translate(1416,214) rotate(-90)" font-size="9">12</text><text transform="translate(1463,210) rotate(-90)" font-size="9">9</text><text transform="translate(1511,210) rotate(-90)" font-size="9">8</text><text transform="translate(1559,210) rotate(-90)" font-size="9">6</text></g>
<text x="1388" y="216" class="c">SMG1</text>
<rect x="1393" y="219" width="180" height="94" class="yb"/>
<g id="dg">
<text x="1406" y="229" class="n">COM</text><text x="1416" y="235" class="n" font-size="9">a</text>
<polygon points="1408,239 1429,239 1426,283 1404,283" fill="none" stroke="#111" stroke-width="1.3"/><line x1="1406" y1="261" x2="1427.5" y2="261" stroke="#111" stroke-width="1.3"/>
<text x="1399" y="253" class="n" font-size="9">f</text><text x="1431" y="253" class="n" font-size="9">b</text><text x="1413" y="258" class="n" font-size="9">g</text><text x="1398" y="274" class="n" font-size="9">e</text><text x="1430" y="274" class="n" font-size="9">c</text><text x="1414" y="280" class="n" font-size="9">d</text>
<rect x="1428" y="285" width="2.5" height="2.5" fill="#111"/><text x="1426" y="296" class="n" font-size="9">dp</text>
</g>
<use href="#dg" x="47.5"/><use href="#dg" x="95"/><use href="#dg" x="142.5"/>
<g class="n" font-size="8">
<text transform="translate(1456,310) rotate(-90)" font-size="8">a</text><text transform="translate(1468,310) rotate(-90)" font-size="8">b</text><text transform="translate(1481,310) rotate(-90)" font-size="8">c</text><text transform="translate(1493,310) rotate(-90)" font-size="8">d</text><text transform="translate(1504,310) rotate(-90)" font-size="8">e</text><text transform="translate(1516,310) rotate(-90)" font-size="8">f</text><text transform="translate(1528,310) rotate(-90)" font-size="8">g</text><text transform="translate(1539,312) rotate(-90)" font-size="8">dp</text>
<text transform="translate(1456,334) rotate(-90)" font-size="8">11</text><text transform="translate(1468,330) rotate(-90)" font-size="8">7</text><text transform="translate(1481,330) rotate(-90)" font-size="8">4</text><text transform="translate(1493,330) rotate(-90)" font-size="8">2</text><text transform="translate(1504,330) rotate(-90)" font-size="8">1</text><text transform="translate(1516,334) rotate(-90)" font-size="8">10</text><text transform="translate(1528,330) rotate(-90)" font-size="8">5</text><text transform="translate(1539,330) rotate(-90)" font-size="8">3</text>
</g>
<g class="bk"><line x1="1453" y1="313" x2="1453" y2="349"/><line x1="1465" y1="313" x2="1465" y2="361"/><line x1="1478" y1="313" x2="1478" y2="372"/><line x1="1490" y1="313" x2="1490" y2="384"/><line x1="1501" y1="313" x2="1501" y2="396"/><line x1="1513" y1="313" x2="1513" y2="408"/><line x1="1525" y1="313" x2="1525" y2="420"/><line x1="1536" y1="313" x2="1536" y2="432"/></g>
<g class="nv"><line x1="1453" y1="338" x2="1453" y2="349"/><line x1="1465" y1="338" x2="1465" y2="361"/><line x1="1478" y1="338" x2="1478" y2="372"/><line x1="1490" y1="338" x2="1490" y2="384"/><line x1="1501" y1="338" x2="1501" y2="396"/><line x1="1513" y1="338" x2="1513" y2="408"/><line x1="1525" y1="338" x2="1525" y2="420"/><line x1="1536" y1="338" x2="1536" y2="432"/>
<line x1="1440" y1="349" x2="1568" y2="349"/><line x1="1440" y1="361" x2="1568" y2="361"/><line x1="1440" y1="372" x2="1568" y2="372"/><line x1="1440" y1="384" x2="1568" y2="384"/><line x1="1440" y1="396" x2="1568" y2="396"/><line x1="1440" y1="408" x2="1568" y2="408"/><line x1="1440" y1="420" x2="1568" y2="420"/><line x1="1440" y1="432" x2="1568" y2="432"/></g>
<g class="d"><circle cx="1453" cy="349" r="2.3"/><circle cx="1465" cy="361" r="2.3"/><circle cx="1478" cy="372" r="2.3"/><circle cx="1490" cy="384" r="2.3"/><circle cx="1501" cy="396" r="2.3"/><circle cx="1513" cy="408" r="2.3"/><circle cx="1525" cy="420" r="2.3"/><circle cx="1536" cy="432" r="2.3"/></g>

<!-- U4 -->
<text x="1257" y="334" class="c">U4</text>
<rect x="1256.6" y="338" width="60.4" height="141.5" fill="#fffcf6" stroke="#15157a" stroke-width="1.3"/>
<g class="bk">
<line x1="1215" y1="349" x2="1256.6" y2="349"/><line x1="1215" y1="361" x2="1256.6" y2="361"/><line x1="1215" y1="372" x2="1256.6" y2="372"/><line x1="1215" y1="384" x2="1256.6" y2="384"/><line x1="1215" y1="396" x2="1256.6" y2="396"/><line x1="1215" y1="408" x2="1256.6" y2="408"/><line x1="1215" y1="420" x2="1256.6" y2="420"/><line x1="1215" y1="432" x2="1256.6" y2="432"/>
<line x1="1215" y1="456" x2="1256.6" y2="456"/><line x1="1215" y1="467.5" x2="1256.6" y2="467.5"/>
<line x1="1317" y1="349" x2="1392" y2="349"/><line x1="1317" y1="361" x2="1392" y2="361"/><line x1="1317" y1="372" x2="1392" y2="372"/><line x1="1317" y1="384" x2="1392" y2="384"/><line x1="1317" y1="396" x2="1392" y2="396"/><line x1="1317" y1="408" x2="1392" y2="408"/><line x1="1317" y1="420" x2="1392" y2="420"/><line x1="1317" y1="432" x2="1392" y2="432"/>
<line x1="1411" y1="349" x2="1440" y2="349"/><line x1="1411" y1="361" x2="1440" y2="361"/><line x1="1411" y1="372" x2="1440" y2="372"/><line x1="1411" y1="384" x2="1440" y2="384"/><line x1="1411" y1="396" x2="1440" y2="396"/><line x1="1411" y1="408" x2="1440" y2="408"/><line x1="1411" y1="420" x2="1440" y2="420"/><line x1="1411" y1="432" x2="1440" y2="432"/>
<line x1="1317" y1="456" x2="1353" y2="456"/><polyline points="1317,467.5 1353,467.5 1353,480"/>
</g>
<g class="bl"><line x1="1198" y1="349" x2="1215" y2="349"/><line x1="1198" y1="361" x2="1215" y2="361"/><line x1="1198" y1="372" x2="1215" y2="372"/><line x1="1198" y1="384" x2="1215" y2="384"/><line x1="1198" y1="396" x2="1215" y2="396"/><line x1="1198" y1="408" x2="1215" y2="408"/><line x1="1198" y1="420" x2="1215" y2="420"/><line x1="1198" y1="432" x2="1215" y2="432"/><line x1="1198" y1="456" x2="1215" y2="456"/><line x1="1198" y1="467.5" x2="1215" y2="467.5"/></g>
<g class="dr"><line x1="1355" y1="449" x2="1355" y2="463"/><line x1="1342" y1="480" x2="1364" y2="480"/><line x1="1346" y1="484" x2="1360" y2="484"/><line x1="1350" y1="488" x2="1356" y2="488"/></g>
<g class="l"><text x="1198" y="346">P00</text><text x="1198" y="358">P01</text><text x="1198" y="370">P02</text><text x="1198" y="382">P03</text><text x="1198" y="394">P04</text><text x="1198" y="405">P05</text><text x="1198" y="417">P06</text><text x="1198" y="429">P07</text><text x="1198" y="453">GND</text><text x="1198" y="465">VCC</text><text x="1358" y="460">VCC</text><text x="1342" y="500">GND</text></g>
<g class="n" text-anchor="end"><text x="1250" y="346">2</text><text x="1250" y="358">3</text><text x="1250" y="370">4</text><text x="1250" y="382">5</text><text x="1250" y="394">6</text><text x="1250" y="405">7</text><text x="1250" y="417">8</text><text x="1250" y="429">9</text><text x="1250" y="453">19</text><text x="1250" y="465">1</text></g>
<g class="n"><text x="1265" y="353">A0</text><text x="1265" y="365">A1</text><text x="1265" y="376">A2</text><text x="1265" y="388">A3</text><text x="1265" y="400">A4</text><text x="1265" y="412">A5</text><text x="1265" y="424">A6</text><text x="1265" y="436">A7</text>
<text x="1296" y="353">B0</text><text x="1296" y="365">B1</text><text x="1296" y="376">B2</text><text x="1296" y="388">B3</text><text x="1296" y="400">B4</text><text x="1296" y="412">B5</text><text x="1296" y="424">B6</text><text x="1296" y="436">B7</text>
<text x="1266" y="460" text-decoration="overline">OE</text><text x="1287" y="460">VCC</text><text x="1266" y="472">DIR</text><text x="1287" y="472">GND</text>
<text x="1326" y="346">18</text><text x="1326" y="358">17</text><text x="1326" y="370">16</text><text x="1326" y="382">15</text><text x="1326" y="394">14</text><text x="1326" y="405">13</text><text x="1326" y="417">12</text><text x="1326" y="429">11</text><text x="1326" y="453">20</text><text x="1326" y="465">10</text>
<text x="1369" y="346">4</text><text x="1369" y="358">3</text><text x="1369" y="370">2</text><text x="1369" y="382">1</text><text x="1369" y="394">4</text><text x="1369" y="405">3</text><text x="1369" y="417">2</text><text x="1369" y="429">1</text>
<text x="1428" y="346">5</text><text x="1428" y="358">6</text><text x="1428" y="370">7</text><text x="1428" y="382">8</text><text x="1428" y="394">5</text><text x="1428" y="405">6</text><text x="1428" y="417">7</text><text x="1428" y="429">8</text></g>
<text x="1256" y="490" class="c">74HC245</text>
<rect x="1383" y="343" width="36" height="94" fill="none" stroke="#2020c0" stroke-width="1.3"/><line x1="1383" y1="390" x2="1419" y2="390" stroke="#2020c0"/>
<g class="rs"><rect x="1392" y="347" width="19" height="4"/><rect x="1392" y="359" width="19" height="4"/><rect x="1392" y="370" width="19" height="4"/><rect x="1392" y="382" width="19" height="4"/><rect x="1392" y="394" width="19" height="4"/><rect x="1392" y="406" width="19" height="4"/><rect x="1392" y="418" width="19" height="4"/><rect x="1392" y="430" width="19" height="4"/></g>
<text x="1382" y="341" class="c">RP3  100R</text><text x="1377" y="448" class="c">RP4  100R</text>

<!-- title block -->
<g stroke="#333" stroke-width="1" fill="none"><polyline points="1389,566 1389,474 1568,474"/><line x1="1389" y1="509" x2="1568" y2="509"/><line x1="1449" y1="509" x2="1449" y2="545"/><line x1="1389" y1="545" x2="1568" y2="545"/><line x1="1389" y1="557" x2="1568" y2="557"/></g>
<g class="n" font-size="10"><text x="1396" y="484" font-size="10">Title</text><text x="1396" y="520" font-size="10">Size</text><text x="1455" y="520" font-size="10">Number</text><text x="1402" y="538" font-size="10">A2</text><text x="1396" y="554" font-size="10">Date:</text><text x="1450" y="554" font-size="10">2023/8/28</text><text x="1396" y="565" font-size="10">File:</text><text x="1450" y="565" font-size="10">J:\MRYZ\..\Sheet1.SchDoc</text></g>
<rect x="1563" y="0" width="5" height="593" fill="#fffcf6"/>
<text x="1395" y="583" font-family="Liberation Sans, sans-serif" font-size="14" fill="#a0a0a0" stroke="#fff" stroke-width="0.4">CSDN @m0_72555859</text>
</svg>
</body></html>
